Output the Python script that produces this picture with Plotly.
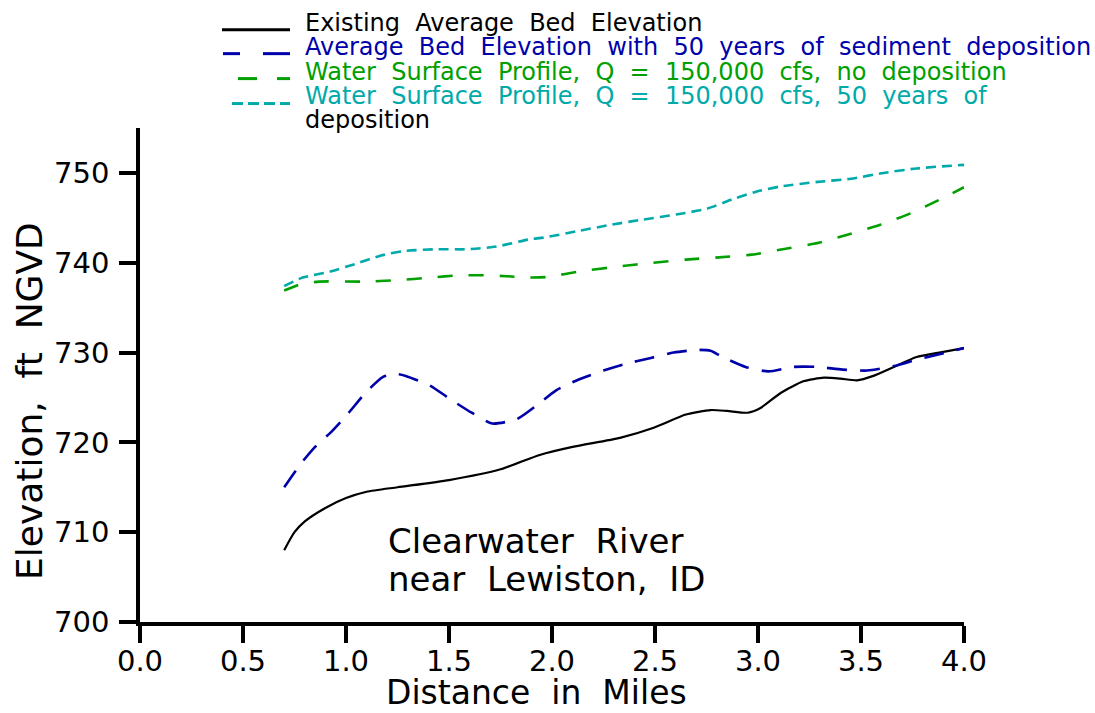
import plotly.graph_objects as go

# ---- data ----
x_exist = [0.70, 0.75, 0.80, 0.90, 1.00, 1.10, 1.25, 1.50, 1.75, 1.94, 2.10, 2.33, 2.49, 2.65, 2.77,
           2.85, 2.95, 3.01, 3.11, 3.22, 3.32, 3.40, 3.48, 3.56, 3.66, 3.77, 3.88, 4.00]
y_exist = [708.0, 710.0, 711.2, 712.7, 713.8, 714.5, 715.0, 715.8, 717.0, 718.6, 719.5, 720.5, 721.6,
           723.1, 723.6, 723.5, 723.3, 723.8, 725.5, 726.8, 727.2, 727.1, 726.9, 727.4, 728.4, 729.5,
           730.0, 730.5]

x_dep = [0.70, 0.78, 0.85, 0.93, 1.01, 1.09, 1.18, 1.25, 1.29, 1.41, 1.50, 1.61, 1.71, 1.83, 1.93,
         2.02, 2.13, 2.25, 2.35, 2.48, 2.59, 2.71, 2.77, 2.82, 2.94, 3.05, 3.17, 3.29, 3.41, 3.53,
         3.66, 3.77, 3.88, 4.00]
y_dep = [715.0, 717.6, 719.5, 721.2, 723.2, 725.4, 727.3, 727.6, 727.4, 726.3, 724.9, 723.3, 722.1,
         722.6, 724.2, 725.8, 727.0, 728.0, 728.7, 729.4, 730.0, 730.3, 730.2, 729.6, 728.4, 727.9,
         728.4, 728.4, 728.1, 728.0, 728.5, 729.2, 729.8, 730.5]

x_wsp = [0.70, 0.78, 0.87, 1.08, 1.25, 1.41, 1.55, 1.67, 1.78, 1.89, 1.97, 2.14, 2.33, 2.49, 2.65,
         2.81, 2.97, 3.12, 3.29, 3.43, 3.59, 3.74, 3.88, 4.00]
y_wsp = [736.9, 737.6, 737.9, 737.9, 738.05, 738.35, 738.6, 738.6, 738.5, 738.35, 738.4, 739.05,
         739.6, 740.0, 740.35, 740.6, 740.9, 741.5, 742.2, 743.1, 744.2, 745.5, 747.0, 748.4]

x_wsp50 = [0.70, 0.79, 0.92, 1.05, 1.17, 1.28, 1.44, 1.59, 1.73, 1.89, 1.96, 2.12, 2.28, 2.44, 2.61,
           2.75, 2.88, 2.99, 3.11, 3.29, 3.45, 3.61, 3.77, 4.00]
y_wsp50 = [737.4, 738.35, 739.0, 739.9, 740.8, 741.3, 741.5, 741.5, 741.8, 742.6, 742.8, 743.5,
           744.2, 744.8, 745.4, 746.0, 747.1, 747.9, 748.5, 749.0, 749.35, 750.0, 750.5, 750.9]

x_ticks = [0.0, 0.5, 1.0, 1.5, 2.0, 2.5, 3.0, 3.5, 4.0]
y_ticks = [700, 710, 720, 730, 740, 750]

legend_labels = [
    "Existing  Average  Bed  Elevation",
    "Average  Bed  Elevation  with  50  years  of  sediment  deposition",
    "Water  Surface  Profile,  Q  =  150,000  cfs,  no  deposition",
    "Water  Surface  Profile,  Q  =  150,000  cfs,  50  years  of",
]

BLACK = "#000000"
BLUE = "#0000aa"
GREEN = "#00a000"
CYAN = "#00aaaa"

FONT = "DejaVu Sans"
W, H = 1095, 713
L, R, T, B = 140, 131, 127.5, 90.5

fig = go.Figure()
fig.add_trace(go.Scatter(x=x_exist, y=y_exist, mode="lines",
                         line=dict(color=BLACK, width=2.2, shape="spline", smoothing=0.6)))
fig.add_trace(go.Scatter(x=x_dep, y=y_dep, mode="lines",
                         line=dict(color=BLUE, width=2.6, shape="spline", smoothing=0.6, dash="20px,13px")))
fig.add_trace(go.Scatter(x=x_wsp, y=y_wsp, mode="lines",
                         line=dict(color=GREEN, width=2.6, shape="spline", smoothing=0.6, dash="15px,16px")))
fig.add_trace(go.Scatter(x=x_wsp50, y=y_wsp50, mode="lines",
                         line=dict(color=CYAN, width=2.6, shape="spline", smoothing=0.6, dash="10px,6px")))


def px2paper(px, py):
    return (px - L) / (W - L - R), (H - B - py) / (H - T - B)


shapes = []
annotations = []

# legend samples (pixel segments)
legend_segments = [
    (BLACK, 29, [(222, 290)]),
    (BLUE, 53, [(223, 240), (263, 290)]),
    (GREEN, 78, [(238, 257), (277, 290)]),
    (CYAN, 103, [(232, 243), (248, 259), (264, 275), (280, 290)]),
]
for color, py, segs in legend_segments:
    for a, b in segs:
        x0, y0 = px2paper(a, py)
        x1, _ = px2paper(b, py)
        shapes.append(dict(type="line", xref="paper", yref="paper", x0=x0, x1=x1, y0=y0, y1=y0,
                           line=dict(color=color, width=3)))

legend_rows = [(legend_labels[0], BLACK, 22), (legend_labels[1], BLUE, 46),
               (legend_labels[2], GREEN, 71), (legend_labels[3], CYAN, 95),
               ("deposition", BLACK, 119)]
for text, color, py in legend_rows:
    xp, yp = px2paper(303, py)
    annotations.append(dict(text=text, xref="paper", yref="paper", x=xp, y=yp, xanchor="left",
                            yanchor="middle", showarrow=False,
                            font=dict(family=FONT, size=24, color=color)))

# site label (two lines)
for text, py in [("Clearwater  River", 541), ("near  Lewiston,  ID", 579)]:
    xp, yp = px2paper(386, py)
    annotations.append(dict(text=text, xref="paper", yref="paper", x=xp, y=yp, xanchor="left",
                            yanchor="middle", showarrow=False,
                            font=dict(family=FONT, size=34, color=BLACK)))

# axis titles
xp, yp = px2paper(536, 693)
annotations.append(dict(text="Distance  in  Miles", xref="paper", yref="paper", x=xp, y=yp,
                        xanchor="center", yanchor="middle", showarrow=False,
                        font=dict(family=FONT, size=33, color=BLACK)))
xp, yp = px2paper(30, 401)
annotations.append(dict(text="Elevation,  ft  NGVD", xref="paper", yref="paper", x=xp, y=yp,
                        xanchor="center", yanchor="middle", textangle=-90, showarrow=False,
                        font=dict(family=FONT, size=36, color=BLACK)))

fig.update_layout(
    width=W, height=H,
    margin=dict(l=L, r=R, t=T, b=B, autoexpand=False),
    paper_bgcolor="white", plot_bgcolor="white",
    showlegend=False,
    shapes=shapes, annotations=annotations,
    xaxis=dict(range=[0, 4], tickvals=x_ticks, ticktext=[f"{v:.1f}" for v in x_ticks],
               showgrid=False, zeroline=False, showline=True, linecolor=BLACK, linewidth=3.5,
               ticks="outside", ticklen=17, tickwidth=3.5, tickcolor=BLACK, ticklabelstandoff=-7,
               tickfont=dict(family=FONT, size=29, color=BLACK)),
    yaxis=dict(range=[700, 755], tickvals=y_ticks, ticktext=[str(v) for v in y_ticks],
               showgrid=False, zeroline=False, showline=True, linecolor=BLACK, linewidth=3.5,
               ticks="outside", ticklen=17, tickwidth=3.5, tickcolor=BLACK, ticklabelstandoff=4,
               tickfont=dict(family=FONT, size=29, color=BLACK)),
)

fig.write_html("out.html")
